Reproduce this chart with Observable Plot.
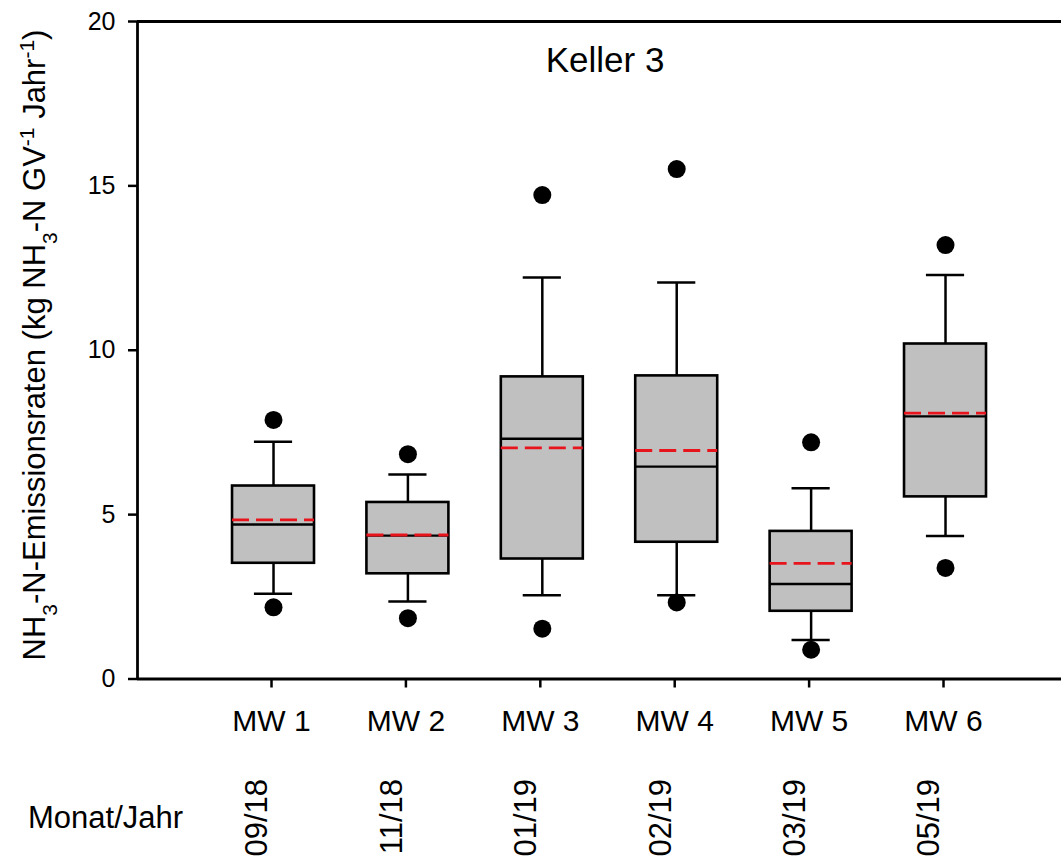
<!DOCTYPE html>
<html><head><meta charset="utf-8">
<script src="https://cdn.jsdelivr.net/npm/d3@7"></script>
<script src="https://cdn.jsdelivr.net/npm/@observablehq/plot@0.6"></script>
<style>body{margin:0;background:#fff;} svg{display:block}</style>
</head><body><div id="chart"></div>
<script>
const labels = ["MW 1", "MW 2", "MW 3", "MW 4", "MW 5", "MW 6"];
const months = ["09/18", "11/18", "01/19", "02/19", "03/19", "05/19"];
const whiskerLow  = [2.59, 2.36, 2.55, 2.55, 1.19, 4.35];
const q1          = [3.52, 3.20, 3.65, 4.16, 2.06, 5.54];
const median      = [4.70, 4.36, 7.31, 6.46, 2.89, 7.99];
const mean        = [4.84, 4.38, 7.03, 6.95, 3.52, 8.09];
const q3          = [5.87, 5.37, 9.19, 9.22, 4.49, 10.19];
const whiskerHigh = [7.22, 6.22, 12.21, 12.06, 5.80, 12.29];
const outlierLow  = [2.18, 1.85, 1.53, 2.33, 0.89, 3.38];
const outlierHigh = [7.88, 6.84, 14.72, 15.51, 7.20, 13.20];
const yTicks = [0, 5, 10, 15, 20];

const data = labels.map((l, k) => ({
  i: k + 1, label: l, month: months[k],
  wl: whiskerLow[k], q1: q1[k], med: median[k], mean: mean[k], q3: q3[k], wh: whiskerHigh[k]
}));
const outliers = data.flatMap((d, k) => [{i: d.i, v: outlierLow[k]}, {i: d.i, v: outlierHigh[k]}]);

const FONT = '"Liberation Sans", Arial, Helvetica, sans-serif';
const xDomain = [-0.012, 6.863];
const boxHalf = 0.305, capHalf = 0.142;

const chart = Plot.plot({
  width: 1061, height: 859,
  marginLeft: 137, marginRight: 0, marginTop: 21, marginBottom: 180.5,
  style: {fontFamily: FONT, fontSize: "25px", color: "black", background: "white"},
  x: {type: "linear", domain: xDomain},
  y: {domain: [0, 20]},
  marks: [
    Plot.axisY({ticks: yTicks, tickSize: 9, tickPadding: 13, tickFormat: d => String(d), label: null, fontSize: 25, strokeWidth: 2.5}),
    Plot.axisX({ticks: data.map(d => d.i), tickSize: 9, tickPadding: 22, tickFormat: i => labels[i - 1], label: null, fontSize: 30, strokeWidth: 2.5, dx: -2}),
    Plot.ruleY([0, 20], {strokeWidth: 2.8}),
    Plot.ruleX([xDomain[0]], {strokeWidth: 2.8}),
    // whiskers
    Plot.ruleX(data, {x: "i", y1: "wl", y2: "q1", strokeWidth: 2.5}),
    Plot.ruleX(data, {x: "i", y1: "q3", y2: "wh", strokeWidth: 2.5}),
    Plot.ruleY(data, {y: "wl", x1: d => d.i - capHalf, x2: d => d.i + capHalf, strokeWidth: 2.5}),
    Plot.ruleY(data, {y: "wh", x1: d => d.i - capHalf, x2: d => d.i + capHalf, strokeWidth: 2.5}),
    // boxes
    Plot.rect(data, {x1: d => d.i - boxHalf, x2: d => d.i + boxHalf, y1: "q1", y2: "q3", fill: "#c0c0c0", stroke: "black", strokeWidth: 2.6}),
    Plot.ruleY(data, {y: "med", x1: d => d.i - boxHalf, x2: d => d.i + boxHalf, strokeWidth: 2.4}),
    Plot.ruleY(data, {y: "mean", x1: d => d.i - boxHalf, x2: d => d.i + boxHalf, stroke: "#e8141c", strokeWidth: 2.8, strokeDasharray: "17,7"}),
    // outliers
    Plot.dot(outliers, {x: "i", y: "v", r: 9, fill: "black", stroke: "none"}),
    // month labels
    Plot.text(data, {x: "i", text: "month", frameAnchor: "bottom", rotate: -90, textAnchor: "end", lineAnchor: "middle", dx: -16, dy: 100, fontSize: 31}),
    Plot.text(["Monat/Jahr"], {frameAnchor: "bottom-left", textAnchor: "middle", lineAnchor: "middle", dx: -32, dy: 139, fontSize: 31}),
    Plot.text(["Keller 3"], {frameAnchor: "top", textAnchor: "middle", lineAnchor: "middle", dx: 5.5, dy: 39, fontSize: 35})
  ]
});

const svg = d3.select(chart);
const t = svg.append("text")
  .attr("transform", "translate(45,345) rotate(-90)")
  .attr("text-anchor", "middle")
  .attr("fill", "black")
  .style("font-family", FONT)
  .style("font-size", "31px");
const parts = [
  ["NH", null], ["3", "sub"], ["-N-Emissionsraten (kg NH", null], ["3", "sub"],
  ["-N GV", null], ["-1", "super"], [" Jahr", null], ["-1", "super"], [")", null]
];
for (const [s, shift] of parts) {
  const ts = t.append("tspan").text(s);
  if (shift) ts.attr("baseline-shift", shift).style("font-size", "21px");
}
document.getElementById("chart").appendChild(chart);
</script>
</body></html>
